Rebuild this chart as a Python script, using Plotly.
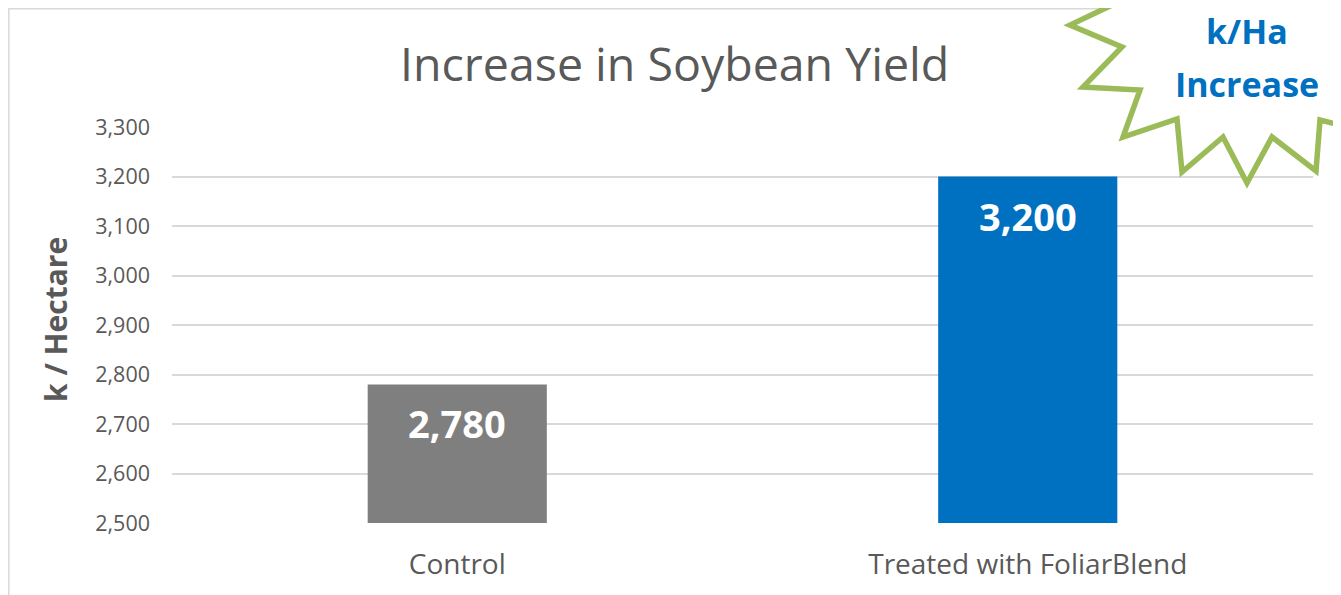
import plotly.graph_objects as go

# ---- data ----
categories = ["Control", "Treated with FoliarBlend"]
values = [2780, 3200]
bar_colors = ["#7F7F7F", "#0070C0"]
value_labels = ["2,780", "3,200"]
y_ticks = [2500, 2600, 2700, 2800, 2900, 3000, 3100, 3200, 3300]
y_tick_text = ["2,500", "2,600", "2,700", "2,800", "2,900", "3,000", "3,100", "3,200", "3,300"]

title_text = "Increase in Soybean Yield"
y_title = "k / Hectare"
badge_line1 = "k/Ha"
badge_line2 = "Increase"

# ---- layout geometry (page has an 8px body margin) ----
OFF = 8
W, H = 1333, 587
ML, MR, MT, MB = 164, 28, 119, 72
PW = W - ML - MR
PH = H - MT - MB


def px(x):  # screen x -> paper
    return (x - OFF - ML) / PW


def py(y):  # screen y -> paper
    return (H - MB - (y - OFF)) / PH


FONT = "Open Sans"
GRAY = "#595959"
GRID = "#D9D9D9"

fig = go.Figure()
fig.add_trace(go.Bar(
    x=categories, y=values,
    marker=dict(color=bar_colors, line=dict(width=0)),
    width=0.314,
    hoverinfo="skip",
))

annotations = []
for c, v, t in zip(categories, values, value_labels):
    annotations.append(dict(
        x=c, y=v, xref="x", yref="y", text=t, showarrow=False,
        yanchor="middle", yshift=-39,
        font=dict(family=FONT, size=38, color="white", weight="bold"),
    ))

# title
annotations.append(dict(
    x=px(674), y=py(63), xref="paper", yref="paper", text=title_text,
    showarrow=False, xanchor="center", yanchor="middle",
    font=dict(family=FONT, size=46.5, color=GRAY),
))
# y axis title
annotations.append(dict(
    x=px(55), y=py(319), xref="paper", yref="paper", text=y_title,
    showarrow=False, xanchor="center", yanchor="middle", textangle=-90,
    font=dict(family=FONT, size=30, color=GRAY, weight="bold"),
))

# starburst badge (decoration), screen-pixel vertices
star_pts = [(1165, -20), (1070, 25), (1122, 47), (1083, 87), (1140, 90),
            (1123, 137), (1177, 119), (1182, 172), (1223, 137), (1247, 183),
            (1272, 137), (1316, 171), (1320, 120), (1360, 130), (1380, 60),
            (1360, -30)]
path = "M " + " L ".join(f"{px(a):.5f},{py(b):.5f}" for a, b in star_pts) + " Z"

shapes = [
    # chart border
    dict(type="rect", xref="paper", yref="paper",
         x0=px(8.8), x1=px(1360), y0=py(8.8), y1=py(620),
         line=dict(color=GRID, width=1.5), fillcolor="rgba(0,0,0,0)", layer="below"),
    dict(type="path", xref="paper", yref="paper", path=path,
         line=dict(color="#9BBB59", width=5.5), fillcolor="white", layer="above"),
]

annotations.append(dict(
    x=px(1247), y=py(31), xref="paper", yref="paper", text=badge_line1,
    showarrow=False, xanchor="center", yanchor="middle",
    font=dict(family=FONT, size=34, color="#0070C0", weight="bold"),
))
annotations.append(dict(
    x=px(1247), y=py(84), xref="paper", yref="paper", text=badge_line2,
    showarrow=False, xanchor="center", yanchor="middle",
    font=dict(family=FONT, size=34, color="#0070C0", weight="bold"),
))

fig.update_layout(
    width=W, height=H,
    margin=dict(l=ML, r=MR, t=MT, b=MB, pad=0),
    paper_bgcolor="white", plot_bgcolor="white",
    showlegend=False,
    bargap=0.686,
    annotations=annotations,
    shapes=shapes,
    xaxis=dict(
        showgrid=False, zeroline=False, showline=False, ticks="",
        tickfont=dict(family=FONT, size=28, color=GRAY),
        ticklabelstandoff=22,
        fixedrange=True,
    ),
    yaxis=dict(
        range=[2500, 3300], tickvals=y_ticks, ticktext=y_tick_text,
        showgrid=True, gridcolor=GRID, gridwidth=1.5,
        zeroline=False, showline=False, ticks="",
        tickfont=dict(family=FONT, size=21.5, color=GRAY),
        ticklabelstandoff=21,
        fixedrange=True,
    ),
)

fig.write_html("out.html", config={"displayModeBar": False})
